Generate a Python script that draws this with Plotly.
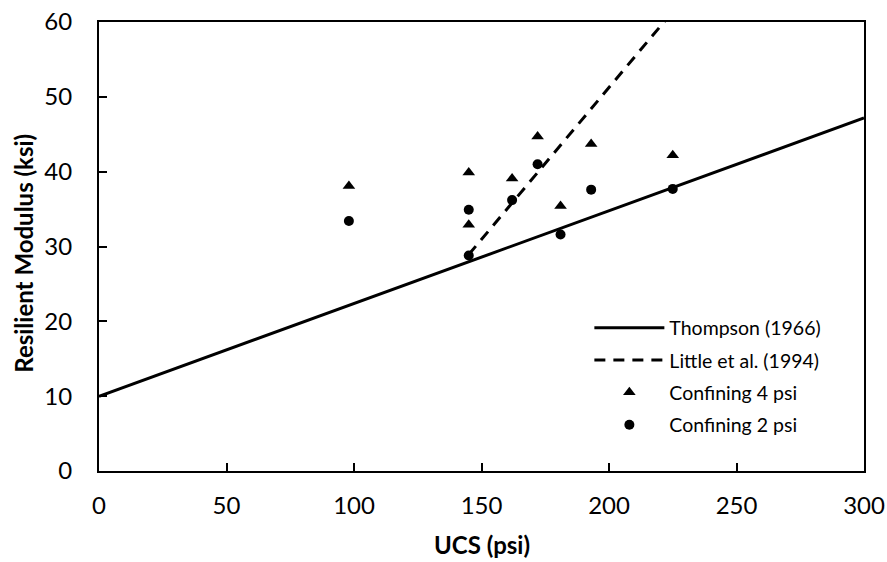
import plotly.graph_objects as go

# Measured resilient modulus (ksi) against unconfined compressive strength (psi)
ucs_4psi = [98, 145, 145, 162, 172, 181, 193, 225]
mr_4psi = [38.1, 39.9, 32.9, 39.1, 44.7, 35.4, 43.7, 42.2]

ucs_2psi = [98, 145, 145, 162, 172, 181, 193, 225]
mr_2psi = [33.4, 34.9, 28.8, 36.2, 41.0, 31.6, 37.6, 37.7]

# Published correlations: MR = slope * UCS + intercept
thompson_slope, thompson_intercept = 0.124, 9.98
thompson_ucs = [0, 300]
little_slope, little_intercept = 0.406, -29.95
little_ucs = [145, 222]

thompson_mr = [thompson_slope * u + thompson_intercept for u in thompson_ucs]
little_mr = [little_slope * u + little_intercept for u in little_ucs]

x_ticks = [0, 50, 100, 150, 200, 250, 300]
y_ticks = [0, 10, 20, 30, 40, 50, 60]

FONT = "Lato"

fig = go.Figure()
fig.add_trace(go.Scatter(
    x=thompson_ucs, y=thompson_mr, mode="lines", name="Thompson (1966)",
    line=dict(color="black", width=3), legendgroup="a",
))
fig.add_trace(go.Scatter(
    x=little_ucs, y=little_mr, mode="lines", name="Little et al. (1994)",
    line=dict(color="black", width=3, dash="11px,8px"), legendgroup="b",
))
fig.add_trace(go.Scatter(
    x=ucs_4psi, y=mr_4psi, mode="markers", name="Confining 4 psi",
    marker=dict(symbol="triangle-up", size=11, color="black"), legendgroup="c",
))
fig.add_trace(go.Scatter(
    x=ucs_2psi, y=mr_2psi, mode="markers", name="Confining 2 psi",
    marker=dict(symbol="circle", size=10, color="black"), legendgroup="d",
))

axis_common = dict(
    showgrid=False, zeroline=False, showline=True, mirror=True,
    linecolor="black", linewidth=2, ticks="inside", ticklen=8,
    tickwidth=1.5, tickcolor="black", automargin=False,
    tickfont=dict(family=FONT, size=24, color="black"),
)

fig.update_xaxes(range=[0, 300], tickvals=x_ticks, ticklabelstandoff=12, **axis_common)
fig.update_yaxes(range=[0, 60], tickvals=y_ticks, ticklabelstandoff=20, **axis_common)

fig.update_layout(
    width=887, height=562,
    margin=dict(l=99, r=23, t=22, b=91, autoexpand=False),
    paper_bgcolor="white", plot_bgcolor="white",
    showlegend=True,
    legend=dict(
        x=0.641, y=0.362, xanchor="left", yanchor="top",
        bgcolor="rgba(0,0,0,0)", borderwidth=0,
        font=dict(family=FONT, size=19.5, color="black"),
        itemwidth=70, tracegroupgap=4, traceorder="grouped",
    ),
    annotations=[
        dict(text="<b>UCS (psi)</b>", xref="paper", yref="paper",
             x=0.5, y=-0.163, xanchor="center", yanchor="middle",
             showarrow=False, font=dict(family=FONT, size=24, color="black")),
        dict(text="<b>Resilient Modulus (ksi)</b>", xref="paper", yref="paper",
             x=-0.098, y=0.484, xanchor="center", yanchor="middle", textangle=-90,
             showarrow=False, font=dict(family=FONT, size=24, color="black")),
    ],
)

fig.write_html("out.html")
